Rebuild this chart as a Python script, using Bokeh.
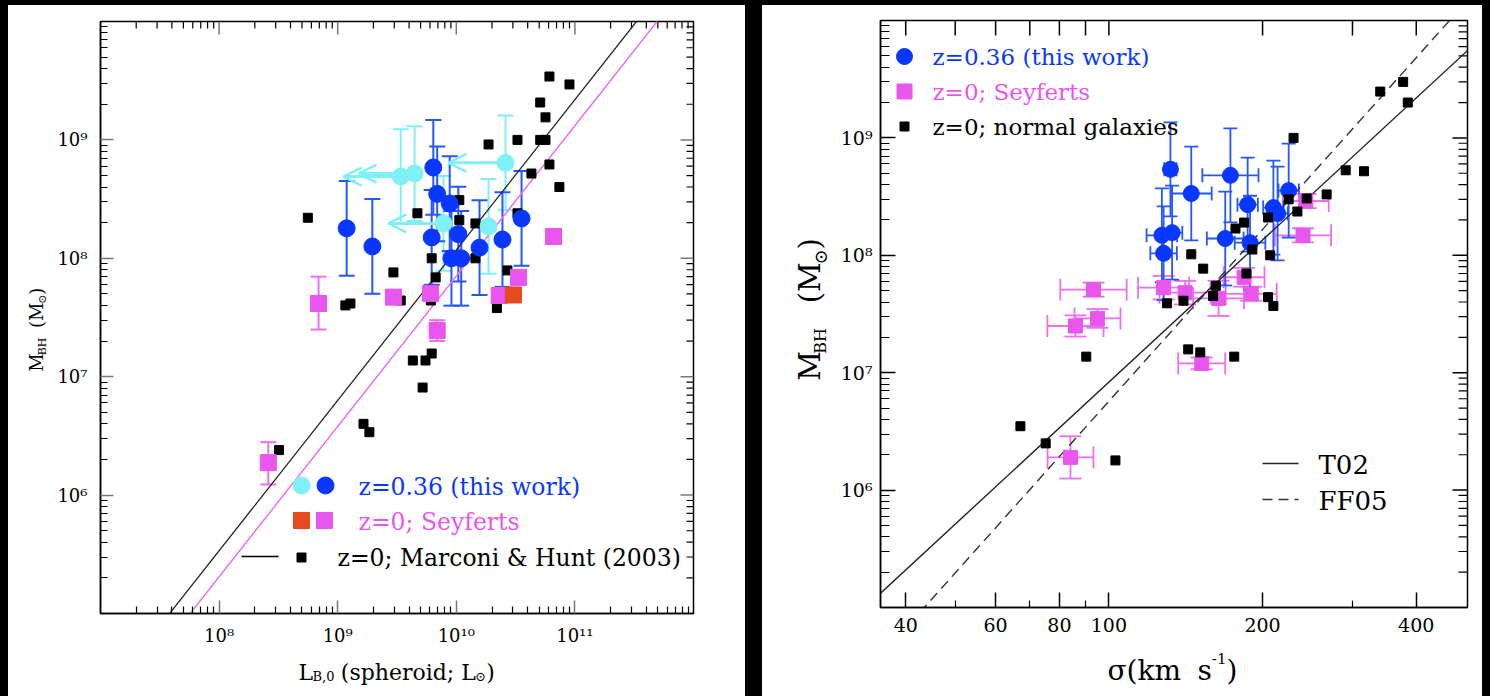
import numpy as np
from bokeh.plotting import figure
from bokeh.models import (ColumnDataSource, Whisker, TeeHead, Arrow, OpenHead, Label,
                          FixedTicker, Range1d, Spacer, CustomJSTickFormatter, LinearScale)
from bokeh.layouts import row, column
from bokeh.embed import file_html
from bokeh.resources import INLINE

FONT = "DejaVu Serif"

# ================= LEFT PANEL DATA: M_BH vs L_B (spheroid) =================
# z=0 normal galaxies, Marconi & Hunt (2003)
mh_L = [6.1e10, 9.0e10, 5.1e10, 5.65e10, 1.87e10, 3.28e10, 5.1e10, 5.65e10, 6.1e10, 4.3e10, 7.4e10,
        1.06e10, 4.7e9, 1.06e10, 3.28e10, 1.45e10, 6.2e9, 1.45e10, 2.95e9, 6.7e9, 2.7e10, 3.4e9, 6.1e9,
        2.2e10, 5.6e8, 1.16e9, 1.28e9, 4.3e9, 5.5e9, 6.2e9, 5.2e9, 1.65e9, 1.85e9, 3.2e8]
mh_M = [3.43e9, 2.94e9, 2.07e9, 1.55e9, 9.15e8, 1.0e9, 1.0e9, 1.0e9, 6.2e8, 5.2e8, 4.0e8,
        3.1e8, 2.4e8, 2.1e8, 2.4e8, 1.97e8, 1.0e8, 1.0e8, 7.6e7, 6.9e7, 7.9e7, 4.4e7, 4.4e7,
        3.8e7, 2.2e8, 4.0e7, 4.15e7, 1.37e7, 1.37e7, 1.57e7, 8.1e6, 4.0e6, 3.4e6, 2.4e6]

# z=0.36 (this work), spheroid luminosity measured
blue_L = [1.19e9, 1.96e9, 6.4e9, 6.9e9, 8.8e9, 6.2e9, 1.04e10, 9.1e9, 1.1e10, 1.57e10, 2.45e10, 3.55e10]
blue_M = [1.79e8, 1.26e8, 5.85e8, 3.5e8, 2.9e8, 1.5e8, 1.6e8, 1.0e8, 1.0e8, 1.23e8, 1.44e8, 2.17e8]
blue_Merr_dex = [0.4, 0.4, 0.4, 0.4, 0.4, 0.4, 0.4, 0.4, 0.4, 0.4, 0.4, 0.4]

# z=0.36 (this work), upper limits on spheroid luminosity
cyan_L = [3.4e9, 4.45e9, 7.8e9, 1.87e10, 2.6e10]
cyan_M = [4.9e8, 5.2e8, 1.97e8, 1.86e8, 6.4e8]
cyan_Merr_dex = [0.4, 0.4, 0.4, 0.4, 0.4]
cyan_arrow_L = [1.12e9, 1.5e9, 2.68e9, None, 8.6e9]

# z=0 Seyferts
sey_L = [6.9e8, 2.6e8, 2.95e9, 6.05e9, 6.9e9, 2.3e10, 3.35e10, 6.6e10]
sey_M = [4.15e7, 1.88e6, 4.7e7, 5.05e7, 2.45e7, 4.85e7, 6.9e7, 1.53e8]
sey_Mlo = [2.5e7, 1.23e6, 4.3e7, 4.6e7, 2.0e7, 4.4e7, 6.2e7, 1.4e8]
sey_Mhi = [7.0e7, 2.8e6, 5.2e7, 5.6e7, 3.0e7, 5.4e7, 7.7e7, 1.68e8]
sey2_L = [3.03e10]
sey2_M = [4.9e7]

# fitted relations: log M = a + b (log L - 10)
mh_rel = (8.07, 1.27)
sey_rel = (7.85, 1.27)

# ================= RIGHT PANEL DATA: M_BH vs sigma =================
ng_sig = [340, 377, 385, 230, 291, 316, 267, 244, 225, 234, 205, 184, 177, 145, 153, 191, 207, 186,
          162, 160, 140, 130, 205, 210, 143, 151, 176, 90.3, 67.1, 75.2, 103]
ng_M = [2.48e9, 3.0e9, 2.0e9, 1.0e9, 5.3e8, 5.2e8, 3.3e8, 3.05e8, 3.0e8, 2.36e8, 2.1e8, 1.9e8, 1.69e8,
        1.02e8, 7.7e7, 1.12e8, 1.0e8, 7.0e7, 5.5e7, 4.5e7, 4.1e7, 3.9e7, 4.4e7, 3.7e7, 1.58e7, 1.49e7,
        1.37e7, 1.37e7, 3.5e6, 2.5e6, 1.79e6]

b2_sig = [132, 145, 173, 187, 210, 214, 225, 127, 133, 128, 169, 189]
b2_M = [5.4e8, 3.36e8, 4.8e8, 2.7e8, 2.55e8, 2.27e8, 3.56e8, 1.48e8, 1.56e8, 1.04e8, 1.39e8, 1.28e8]
b2_sig_err_dex = [0.012, 0.04, 0.055, 0.02, 0.02, 0.02, 0.02, 0.03, 0.02, 0.026, 0.036, 0.03]
b2_M_err_dex = [0.4, 0.4, 0.4, 0.4, 0.4, 0.4, 0.4, 0.4, 0.4, 0.4, 0.4, 0.4]

s2_sig = [93.3, 86, 95, 84.1, 152, 128, 141, 164, 184, 190, 240, 243]
s2_M = [5.1e7, 2.5e7, 2.9e7, 1.9e6, 1.2e7, 5.3e7, 4.8e7, 4.3e7, 6.5e7, 4.7e7, 1.48e8, 2.9e8]
s2_sig_err_dex = [0.065, 0.055, 0.045, 0.045, 0.046, 0.05, 0.05, 0.05, 0.04, 0.05, 0.055, 0.045]
s2_M_err_dex = [0.06, 0.09, 0.08, 0.18, 0.05, 0.1, 0.1, 0.15, 0.08, 0.06, 0.06, 0.06]

# log M = a + b log(sigma/200)
t02_rel = (8.13, 4.02)
ff05_rel = (8.22, 4.86)

# tick labels
left_x_ticks = [1e8, 1e9, 1e10, 1e11]
mass_ticks = [1e6, 1e7, 1e8, 1e9]
sig_ticks = [40, 60, 80, 100, 200, 400]
sig_minor = [50, 70, 90, 300]

# ================= colours =================
BLUE = "#0a37ff"
BLUE_ERR = "#2457ff"
CYAN = "#7ff0f6"
MAG = "#e856ee"
MAG_LINE = "#ee6ef0"
ORANGE = "#e64a1c"

W = {" ": 0.318, "(": 0.39, ")": 0.39, ",": 0.318, ".": 0.318, ";": 0.337, "=": 0.838, "-": 0.338,
     "0": 0.636, "1": 0.636, "2": 0.636, "3": 0.636, "6": 0.636,
     "B": 0.686, "H": 0.837, "L": 0.637, "M": 0.873, "a": 0.596, "d": 0.64, "e": 0.592, "h": 0.644,
     "i": 0.32, "k": 0.61, "m": 0.948, "o": 0.602, "p": 0.64, "r": 0.478, "s": 0.513,
     "\u2299": 0.838, "\u03c3": 0.63}


def tw(s, size):
    return sum(W.get(c, 0.6) for c in s) * size


def label_fig(w, h, bl=0, br=0):
    f = figure(width=w, height=h, x_range=Range1d(bl, w - br), y_range=Range1d(0, h), title=None,
               output_backend="svg", toolbar_location=None, x_axis_location=None,
               y_axis_location=None, min_border=0, min_border_left=bl, min_border_right=br,
               min_border_top=0, min_border_bottom=0)
    try:
        f.frame_align = False
    except Exception:
        pass
    f.xgrid.visible = False
    f.ygrid.visible = False
    f.outline_line_color = None
    f.border_fill_color = None
    f.background_fill_color = None
    return f


def text_run(f, left, bottom, px, py, segments, color="black", vertical=False):
    """segments placed from page baseline point (px, py); f covers page area from `left`, ending at `bottom`"""
    pos = 0.0
    for text, size, shift in segments:
        pos += (len(text) - len(text.lstrip(" "))) * W[" "] * size
        core = text.strip(" ")
        if not core:
            continue
        wdt = tw(core, size)
        if not vertical:
            f.add_layout(Label(x=px + pos - left, y=bottom - (py + shift), text=core,
                               text_font=FONT, text_font_size=f"{size}px", text_color=color,
                               text_align="left", text_baseline="alphabetic"))
        else:
            # rotated text reading upwards, anchored at the centre of each segment
            cx = px + shift - 0.34 * size
            cy = py - pos - wdt / 2.0
            f.add_layout(Label(x=cx - left, y=bottom - cy, text=core,
                               angle=np.pi / 2, text_font=FONT, text_font_size=f"{size}px",
                               text_color=color, text_align="center", text_baseline="middle"))
        pos += wdt
        pos += (len(text) - len(text.rstrip(" "))) * W[" "] * size


class Frame:
    def __init__(self, left, bottom, w, h):
        self.left, self.bottom, self.w, self.h = left, bottom, w, h


def label_at(p, fr, px, py, text, size, color):
    p.add_layout(Label(x=px - fr.left, y=fr.bottom - py, x_units="screen", y_units="screen", text=text,
                       text_font=FONT, text_font_size=f"{size}px", text_color=color,
                       text_align="left", text_baseline="middle"))


def fpx(fr, px, py):
    return px - fr.left, fr.bottom - py


sup_fmt = CustomJSTickFormatter(code="""
const s = {"0":"\u2070","1":"\u00b9","2":"\u00b2","3":"\u00b3","4":"\u2074","5":"\u2075",
           "6":"\u2076","7":"\u2077","8":"\u2078","9":"\u2079"};
const e = Math.round(Math.log10(tick));
return "10" + String(e).split("").map(c => s[c]).join("");
""")
plain_fmt = CustomJSTickFormatter(code="return String(Math.round(tick));")


def style_axis(ax, ticker, fmt, major_in, minor_in, fsize, standoff, tick_color):
    ax.ticker = ticker
    ax.formatter = fmt
    ax.major_tick_in = major_in
    ax.major_tick_out = 0
    ax.minor_tick_in = minor_in
    ax.minor_tick_out = 0
    ax.axis_line_color = "black"
    ax.axis_line_width = 1.5
    ax.major_tick_line_color = tick_color
    ax.major_tick_line_width = 1.5
    ax.minor_tick_line_color = "black"
    ax.minor_tick_line_width = 1.2
    ax.major_label_text_font = FONT
    ax.major_label_text_color = "black"
    ax.major_label_text_font_size = fsize
    ax.major_label_standoff = standoff


def decade_minor(lo, hi):
    return [k * 10.0 ** n for n in range(lo, hi) for k in range(2, 10)]


def add_px_ranges(p, fr):
    p.extra_x_ranges = {"px": Range1d(0, fr.w)}
    p.extra_y_ranges = {"px": Range1d(0, fr.h)}
    p.extra_x_scales = {"px": LinearScale()}
    p.extra_y_scales = {"px": LinearScale()}


def mirror_ticks(p, fr, xmaj, xmin, ymaj, ymin, lmaj, lmin, cmaj):
    for vals, ln, col, lw in ((xmaj, lmaj, cmaj, 1.5), (xmin, lmin, "black", 1.2)):
        n = len(vals)
        if n:
            p.segment(x0=vals, y0=[fr.h] * n, x1=vals, y1=[fr.h - ln] * n, y_range_name="px",
                      line_color=col, line_width=lw)
    for vals, ln, col, lw in ((ymaj, lmaj, cmaj, 1.5), (ymin, lmin, "black", 1.2)):
        n = len(vals)
        if n:
            p.segment(x0=[fr.w] * n, y0=vals, x1=[fr.w - ln] * n, y1=vals, x_range_name="px",
                      line_color=col, line_width=lw)


# ================= LEFT FIGURE =================
# page geometry: p1 occupies x 48..745, y 5..648 ; frame x 100..693, y 21..613
fr1 = Frame(100, 613, 593, 592)
p1 = figure(width=697, height=643, x_axis_type="log", y_axis_type="log",
            x_range=Range1d(1e7, 1e12), y_range=Range1d(1e5, 1e10),
            output_backend="svg", toolbar_location=None,
            min_border_left=52, min_border_right=52, min_border_top=16, min_border_bottom=35)
p1.grid.visible = False
p1.outline_line_color = "black"
p1.outline_line_width = 1.5
p1.border_fill_color = "white"
add_px_ranges(p1, fr1)

xt1 = FixedTicker(ticks=left_x_ticks, minor_ticks=decade_minor(7, 12))
yt1 = FixedTicker(ticks=mass_ticks, minor_ticks=decade_minor(5, 10))
style_axis(p1.xaxis[0], xt1, sup_fmt, 13, 7, "18px", 11, "#777777")
style_axis(p1.yaxis[0], yt1, sup_fmt, 13, 7, "18px", 13, "#777777")
mirror_ticks(p1, fr1, left_x_ticks, decade_minor(7, 12), mass_ticks, decade_minor(5, 10), 13, 7, "#777777")

lx = np.array([6.0, 13.0])
p1.line(10 ** lx, 10 ** (mh_rel[0] + mh_rel[1] * (lx - 10)), line_color="#222222", line_width=1.3)
p1.line(10 ** lx, 10 ** (sey_rel[0] + sey_rel[1] * (lx - 10)), line_color=MAG_LINE, line_width=1.5)

src_sey = ColumnDataSource(dict(x=sey_L, y=sey_M, lo=sey_Mlo, hi=sey_Mhi))
p1.add_layout(Whisker(source=src_sey, base="x", lower="lo", upper="hi", dimension="height",
                      line_color=MAG_LINE, line_width=2,
                      upper_head=TeeHead(size=16, line_color=MAG_LINE, line_width=2),
                      lower_head=TeeHead(size=16, line_color=MAG_LINE, line_width=2)))

cy_lo = [m / 10 ** e for m, e in zip(cyan_M, cyan_Merr_dex)]
cy_hi = [m * 10 ** e for m, e in zip(cyan_M, cyan_Merr_dex)]
src_cy = ColumnDataSource(dict(x=cyan_L, y=cyan_M, lo=cy_lo, hi=cy_hi))
p1.add_layout(Whisker(source=src_cy, base="x", lower="lo", upper="hi", dimension="height",
                      line_color=CYAN, line_width=2,
                      upper_head=TeeHead(size=16, line_color=CYAN, line_width=2),
                      lower_head=TeeHead(size=16, line_color=CYAN, line_width=2)))
ax_s, ay_s, ax_e = [], [], []
for L0, M0, Le in zip(cyan_L, cyan_M, cyan_arrow_L):
    if Le is not None:
        ax_s.append(L0)
        ay_s.append(M0)
        ax_e.append(Le)
src_arr = ColumnDataSource(dict(xs=ax_s, ys=ay_s, xe=ax_e, ye=ay_s))
p1.add_layout(Arrow(source=src_arr, x_start="xs", y_start="ys", x_end="xe", y_end="ye",
                    line_color=CYAN, line_width=3,
                    end=OpenHead(size=18, line_color=CYAN, line_width=2.5)))

bl_lo = [m / 10 ** e for m, e in zip(blue_M, blue_Merr_dex)]
bl_hi = [m * 10 ** e for m, e in zip(blue_M, blue_Merr_dex)]
src_bl = ColumnDataSource(dict(x=blue_L, y=blue_M, lo=bl_lo, hi=bl_hi))
p1.add_layout(Whisker(source=src_bl, base="x", lower="lo", upper="hi", dimension="height",
                      line_color=BLUE_ERR, line_width=2,
                      upper_head=TeeHead(size=16, line_color=BLUE_ERR, line_width=2),
                      lower_head=TeeHead(size=16, line_color=BLUE_ERR, line_width=2)))

p1.scatter(mh_L, mh_M, marker="square", size=9, fill_color="black", line_color="black")
p1.scatter(sey_L, sey_M, marker="square", size=16, fill_color=MAG, line_color=MAG)
p1.scatter(sey2_L, sey2_M, marker="square", size=16, fill_color=ORANGE, line_color=ORANGE)
p1.scatter(cyan_L, cyan_M, marker="circle", size=17, fill_color=CYAN, line_color=CYAN)
p1.scatter(blue_L, blue_M, marker="circle", size=17, fill_color=BLUE, line_color=BLUE)

leg1 = [(301, 485, "circle", CYAN, 17), (325, 485, "circle", BLUE, 17),
        (301, 520, "square", ORANGE, 16), (324, 520, "square", MAG, 16),
        (301, 557, "square", "black", 9)]
for px, py, mk, col, sz in leg1:
    fx, fy = fpx(fr1, px, py)
    p1.scatter([fx], [fy], marker=mk, size=sz, fill_color=col, line_color=col,
               x_range_name="px", y_range_name="px")
a, b = fpx(fr1, 241, 556)
c, d = fpx(fr1, 278, 556)
p1.line([a, c], [b, d], line_color="black", line_width=1.5, x_range_name="px", y_range_name="px")
label_at(p1, fr1, 358, 486, "z=0.36 (this work)", 23.5, BLUE)
label_at(p1, fr1, 358, 521, "z=0; Seyferts", 23.5, MAG)
label_at(p1, fr1, 337, 557, "z=0; Marconi & Hunt (2003)", 23.5, "black")

ylab1 = label_fig(40, 691)                 # page x 8..48, y 5..696
text_run(ylab1, 8, 696, 42, 370, [("M", 18, 0), ("BH", 11, 4), ("  (M", 18, 0), ("\u2299", 11, 4), (")", 18, 0)],
         vertical=True)
xlab1 = label_fig(697, 48, 52, 52)         # page x 48..745, y 648..696
text_run(xlab1, 48, 696, 298, 672, [("L", 22, 0), ("B,0", 13, 4), (" (spheroid;", 22, 0), (" L", 22, 0),
                                     ("\u2299", 13, 4), (")", 22, 0)])

# ================= RIGHT FIGURE =================
# page geometry: p2 occupies x 833..1482, y 5..643 ; frame x 880..1467, y 20..607
fr2 = Frame(880, 607, 587, 587)
p2 = figure(width=649, height=638, x_axis_type="log", y_axis_type="log",
            x_range=Range1d(35.7, 504), y_range=Range1d(1e5, 1e10),
            output_backend="svg", toolbar_location=None,
            min_border_left=47, min_border_right=15, min_border_top=15, min_border_bottom=36)
p2.grid.visible = False
p2.outline_line_color = "black"
p2.outline_line_width = 1.5
p2.border_fill_color = "white"
add_px_ranges(p2, fr2)

xt2 = FixedTicker(ticks=sig_ticks, minor_ticks=sig_minor)
yt2 = FixedTicker(ticks=mass_ticks, minor_ticks=decade_minor(5, 10))
style_axis(p2.xaxis[0], xt2, plain_fmt, 15, 7, "19px", 10, "black")
style_axis(p2.yaxis[0], yt2, sup_fmt, 15, 9, "19px", 8, "black")
mirror_ticks(p2, fr2, sig_ticks + sig_minor, [], mass_ticks, decade_minor(5, 10), 15, 9, "black")

ls = np.array([1.4, 2.8])
p2.line(10 ** ls, 10 ** (t02_rel[0] + t02_rel[1] * (ls - np.log10(200))), line_color="#222222", line_width=1.4)
p2.line(10 ** ls, 10 ** (ff05_rel[0] + ff05_rel[1] * (ls - np.log10(200))), line_color="#333333",
        line_width=1.4, line_dash="10 6")


def add_xy_err(p, xs, ys, xe, ye, col, head):
    src = ColumnDataSource(dict(
        x=xs, y=ys,
        xlo=[v / 10 ** e for v, e in zip(xs, xe)], xhi=[v * 10 ** e for v, e in zip(xs, xe)],
        ylo=[v / 10 ** e for v, e in zip(ys, ye)], yhi=[v * 10 ** e for v, e in zip(ys, ye)]))
    p.add_layout(Whisker(source=src, base="y", lower="xlo", upper="xhi", dimension="width",
                         line_color=col, line_width=1.8,
                         upper_head=TeeHead(size=head, line_color=col, line_width=1.8),
                         lower_head=TeeHead(size=head, line_color=col, line_width=1.8)))
    p.add_layout(Whisker(source=src, base="x", lower="ylo", upper="yhi", dimension="height",
                         line_color=col, line_width=1.8,
                         upper_head=TeeHead(size=head, line_color=col, line_width=1.8),
                         lower_head=TeeHead(size=head, line_color=col, line_width=1.8)))


add_xy_err(p2, s2_sig, s2_M, s2_sig_err_dex, s2_M_err_dex, MAG_LINE, 22)
add_xy_err(p2, b2_sig, b2_M, b2_sig_err_dex, b2_M_err_dex, BLUE_ERR, 14)

p2.scatter(s2_sig, s2_M, marker="square", size=14, fill_color=MAG, line_color=MAG)
p2.scatter(b2_sig, b2_M, marker="circle", size=16, fill_color=BLUE, line_color=BLUE)
p2.scatter(ng_sig, ng_M, marker="square", size=9, fill_color="black", line_color="black")

leg2 = [(904, 56, "circle", BLUE, 16), (904, 91, "square", MAG, 15), (904, 126, "square", "black", 9)]
for px, py, mk, col, sz in leg2:
    fx, fy = fpx(fr2, px, py)
    p2.scatter([fx], [fy], marker=mk, size=sz, fill_color=col, line_color=col,
               x_range_name="px", y_range_name="px")
label_at(p2, fr2, 932, 56, "z=0.36 (this work)", 23, BLUE)
label_at(p2, fr2, 932, 91, "z=0; Seyferts", 23, MAG)
label_at(p2, fr2, 932, 126, "z=0; normal galaxies", 23, "black")

a, b = fpx(fr2, 1262, 463)
c, d = fpx(fr2, 1298, 463)
p2.line([a, c], [b, d], line_color="#222222", line_width=1.4, x_range_name="px", y_range_name="px")
a, b = fpx(fr2, 1262, 499)
c, d = fpx(fr2, 1298, 499)
p2.line([a, c], [b, d], line_color="#333333", line_width=1.4, line_dash="10 6",
        x_range_name="px", y_range_name="px")
label_at(p2, fr2, 1318, 464, "T02", 26, "black")
label_at(p2, fr2, 1318, 500, "FF05", 26, "black")

ylab2 = label_fig(71, 691)                 # page x 762..833, y 5..696
text_run(ylab2, 762, 696, 819, 378, [("M", 29, 0), ("BH", 16, 6), ("   (M", 29, 0), ("\u2299", 18, 7),
                                      (")", 29, 0)], vertical=True)
xlab2 = label_fig(649, 53, 47, 15)         # page x 833..1482, y 643..696
text_run(xlab2, 833, 696, 1107, 670, [("\u03c3(km", 28, 0), ("  s", 28, 0), ("-1", 15, -12), (")", 28, 0)])

BLACK = {"background-color": "black"}
WHITE = {"background-color": "white"}
left_block = row(ylab1, column(p1, xlab1, styles=WHITE), styles=WHITE)
right_block = row(ylab2, column(p2, xlab2, styles=WHITE), styles=WHITE)
layout = column(
    Spacer(width=1490, height=5, styles=BLACK),
    row(Spacer(width=8, height=691, styles=BLACK), left_block, Spacer(width=17, height=691, styles=BLACK),
        right_block, Spacer(width=8, height=691, styles=BLACK), styles=BLACK),
    styles=BLACK)

open("out.html", "w").write(file_html(layout, INLINE))
